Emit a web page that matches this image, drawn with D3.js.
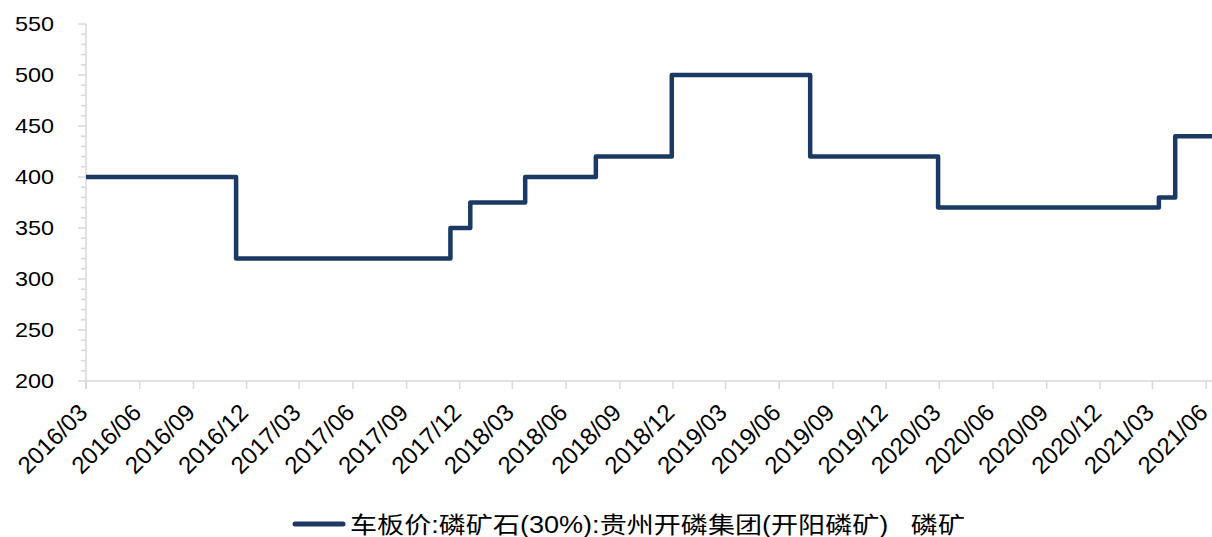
<!DOCTYPE html>
<html>
<head>
<meta charset="utf-8">
<script src="https://cdn.jsdelivr.net/npm/d3@7"></script>
<style>
  html, body { margin: 0; padding: 0; background: #fff; }
  svg text { font-family: "Liberation Sans", Arial, "Noto Sans CJK SC", sans-serif; fill: #000; }
</style>
</head>
<body>
<svg id="chart" width="1212" height="537"></svg>
<script>
// 价格变动日期和数值 (step after)
const dates = ['2016-03-01', '2016-11-13', '2017-11-15', '2017-12-19', '2018-03-23', '2018-07-22',
  '2018-11-29', '2019-07-24', '2020-02-28', '2021-03-12', '2021-04-09', '2021-06-11'];
const prices = [400, 320, 350, 375, 400, 420, 500, 420, 370, 380, 440, 440];
const yTicks = [200, 250, 300, 350, 400, 450, 500, 550];
const seriesName = '车板价:磷矿石(30%):贵州开磷集团(开阳磷矿)   磷矿';

const parse = d3.timeParse('%Y-%m-%d');
const data = dates.map((d, i) => ({date: parse(d), value: prices[i]}));

const margin = {top: 24, right: 0, bottom: 156, left: 86};
const width = 1212, height = 537;

const svg = d3.select('#chart');

const x = d3.scaleTime()
  .domain([parse('2016-03-01'), parse('2021-06-11')])
  .range([margin.left, width - margin.right]);

const y = d3.scaleLinear()
  .domain([200, 550])
  .range([height - margin.bottom, margin.top]);

const axisColor = '#d9d9d9';

// y minor ticks
const yMinor = d3.range(200, 551, 10);
svg.append('g')
  .selectAll('line')
  .data(yMinor)
  .join('line')
  .attr('x1', d => yTicks.includes(d) ? margin.left - 8 : margin.left - 5)
  .attr('x2', margin.left)
  .attr('y1', d => y(d))
  .attr('y2', d => y(d))
  .attr('stroke', axisColor)
  .attr('stroke-width', 1.5);

// y axis line
svg.append('line')
  .attr('x1', margin.left).attr('x2', margin.left)
  .attr('y1', y(550)).attr('y2', y(200) + 8)
  .attr('stroke', axisColor).attr('stroke-width', 1.5);

// y labels
svg.append('g')
  .selectAll('text')
  .data(yTicks)
  .join('text')
  .attr('transform', d => `translate(54,${y(d) + 7}) scale(1.17,1)`)
  .attr('text-anchor', 'end')
  .attr('font-size', 20)
  .text(d => d);

// x axis: 每季度一个刻度, 从 2016/03 开始
const xTicks = d3.timeMonth.range(parse('2016-03-01'), parse('2021-06-02'), 3);
svg.append('line')
  .attr('x1', margin.left).attr('x2', width)
  .attr('y1', y(200)).attr('y2', y(200))
  .attr('stroke', axisColor).attr('stroke-width', 1.5);

svg.append('g')
  .selectAll('line')
  .data(xTicks)
  .join('line')
  .attr('x1', d => x(d)).attr('x2', d => x(d))
  .attr('y1', y(200)).attr('y2', y(200) + 8)
  .attr('stroke', axisColor).attr('stroke-width', 1.5);

const fmt = d3.timeFormat('%Y/%m');
svg.append('g')
  .selectAll('text')
  .data(xTicks)
  .join('text')
  .attr('transform', d => `translate(${x(d) + 3},${y(200) + 33}) rotate(-45)`)
  .attr('text-anchor', 'end')
  .attr('font-size', 24)
  .text(d => fmt(d));

// 价格线
const line = d3.line()
  .x(d => x(d.date))
  .y(d => y(d.value))
  .curve(d3.curveStepAfter);

svg.append('path')
  .datum(data)
  .attr('fill', 'none')
  .attr('stroke', '#1b3a63')
  .attr('stroke-width', 4.5)
  .attr('stroke-linejoin', 'round')
  .attr('d', line);

// legend
const lg = svg.append('g').attr('transform', 'translate(295,524)');
lg.append('line')
  .attr('x1', 0).attr('x2', 48)
  .attr('stroke', '#1b3a63').attr('stroke-width', 5).attr('stroke-linecap', 'round');
lg.append('text')
  .attr('x', 55).attr('y', 9)
  .attr('font-size', 23)
  .attr('textLength', 615)
  .attr('lengthAdjust', 'spacingAndGlyphs')
  .style('white-space', 'pre')
  .text(seriesName);
</script>
</body>
</html>
